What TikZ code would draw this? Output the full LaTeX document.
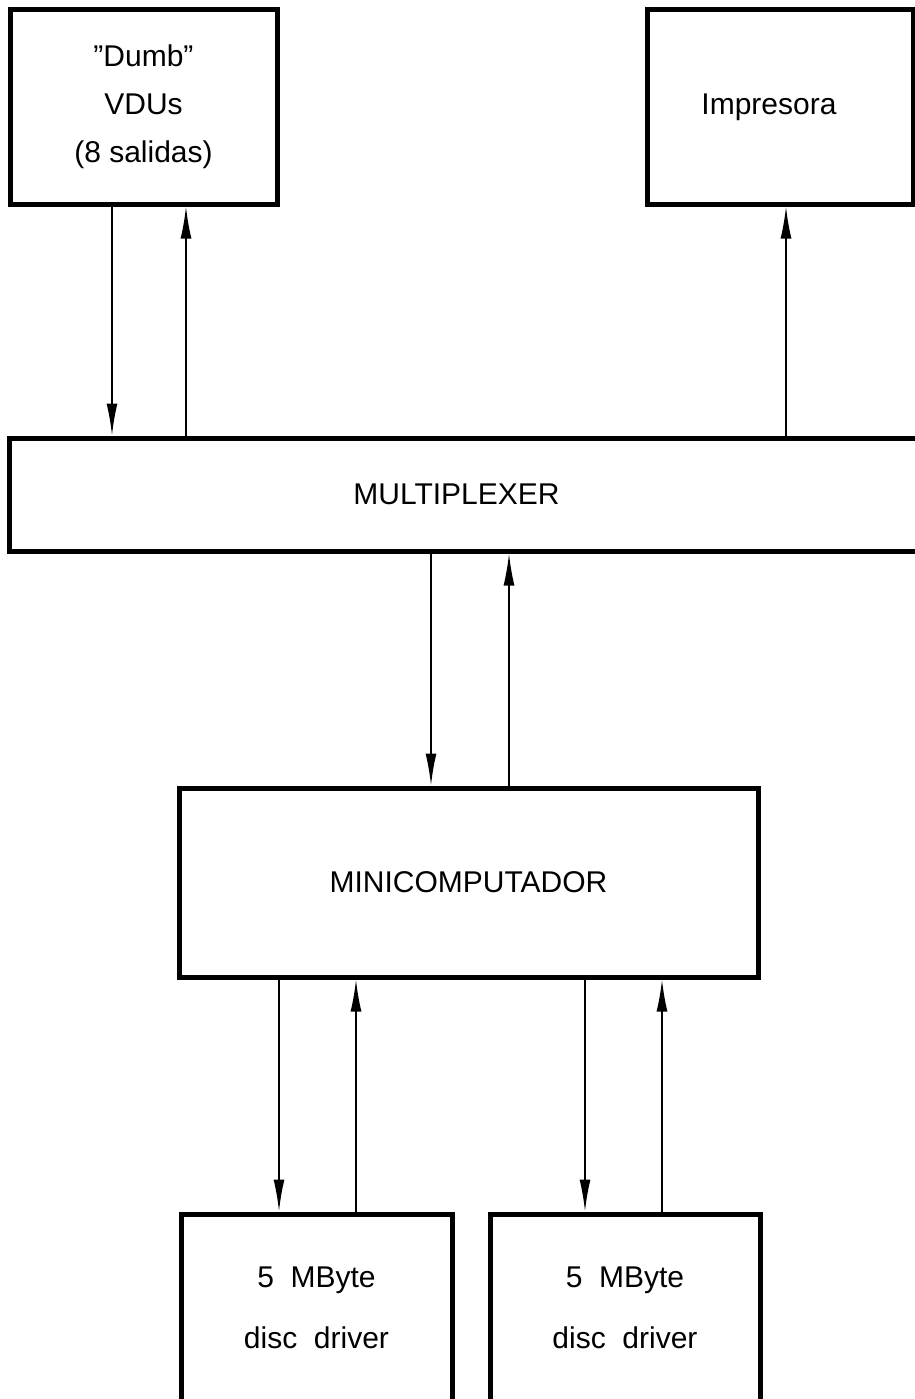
\documentclass[tikz,border=0pt]{standalone}
\usepackage{fontspec}
\setmainfont{Liberation Sans}
\usetikzlibrary{arrows.meta}
\begin{document}
\begin{tikzpicture}[x=1pt,y=-1pt,
  box/.style={draw, line width=5pt, rectangle, inner sep=0pt, align=center,
    font=\fontsize{30}{48}\selectfont},
  arr/.style={line width=1.8pt, -{Latex[length=32pt,width=11pt]}}]
\fill[white] (0,0) rectangle (914,1399);
\useasboundingbox (0,0) rectangle (914,1399);
% boxes
\node[box, minimum width=267pt, minimum height=194pt] (vdu) at (143.5,107)
  {''Dumb''\\VDUs\\(8 salidas)};
\node[box, minimum width=266pt, minimum height=194pt] (imp) at (780,107) {\hspace*{-22pt}Impresora};
\node[box, minimum width=921pt, minimum height=113pt] (mux) at (469.5,494.5) {\hspace*{-26pt}MULTIPLEXER};
\node[box, minimum width=579pt, minimum height=189pt] (mini) at (468.5,882.5) {MINICOMPUTADOR};
\node[box, font=\fontsize{30}{61}\selectfont, minimum width=271pt, minimum height=188pt] (d1) at (316.5,1308)
  {5\ \ MByte\\disc\ \ driver};
\node[box, font=\fontsize{30}{61}\selectfont, minimum width=270pt, minimum height=188pt] (d2) at (625,1308)
  {5\ \ MByte\\disc\ \ driver};
% connector x positions
\coordinate (a1) at (112,0);
\coordinate (a2) at (186,0);
\coordinate (a3) at (786,0);
\coordinate (b1) at (431,0);
\coordinate (b2) at (509,0);
\coordinate (c1) at (279,0);
\coordinate (c2) at (356,0);
\coordinate (c3) at (585,0);
\coordinate (c4) at (662,0);
% connectors
\draw[arr] (a1 |- vdu.south) -- (a1 |- mux.north);
\draw[arr] (a2 |- mux.north) -- (a2 |- vdu.south);
\draw[arr] (a3 |- mux.north) -- (a3 |- imp.south);
\draw[arr] (b1 |- mux.south) -- (b1 |- mini.north);
\draw[arr] (b2 |- mini.north) -- (b2 |- mux.south);
\draw[arr] (c1 |- mini.south) -- (c1 |- d1.north);
\draw[arr] (c2 |- d1.north) -- (c2 |- mini.south);
\draw[arr] (c3 |- mini.south) -- (c3 |- d2.north);
\draw[arr] (c4 |- d2.north) -- (c4 |- mini.south);
\end{tikzpicture}
\end{document}
